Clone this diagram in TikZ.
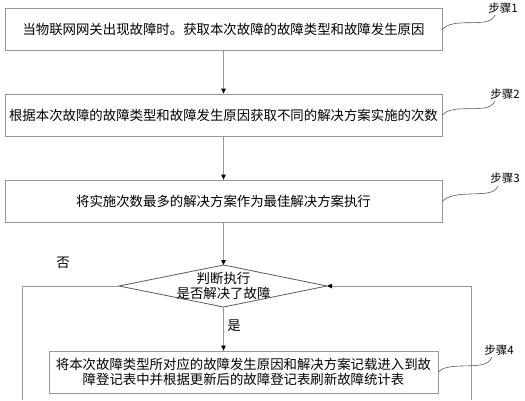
\documentclass[tikz,border=0pt]{standalone}
\usepackage{fontspec}
\setmainfont{Noto Sans CJK SC}
\usetikzlibrary{arrows.meta}
\definecolor{linegray}{RGB}{150,150,150}
\definecolor{darkline}{RGB}{90,90,90}
\begin{document}
\begin{tikzpicture}[x=1pt,y=-1pt,
  box/.style={draw=linegray, line width=0.8pt, minimum height=42pt, inner sep=0pt, font=\fontsize{13.4}{15}\selectfont, align=center},
  link/.style={draw=linegray, line width=0.8pt},
  arr/.style={link, -{Triangle[length=5pt,width=4.5pt,fill=black,color=black]}},
  txt/.style={font=\fontsize{13.4}{15}\selectfont, align=center, inner sep=0pt},
  steplbl/.style={font=\fontsize{11.5}{13}\selectfont, inner sep=0pt},
  wig/.style={draw=darkline, line width=0.6pt}]
\useasboundingbox[fill=white] (0,0) rectangle (525,400);

\node[box, minimum width=437pt] (b1) at (223.5,29.5) {当物联网网关出现故障时。获取本次故障的故障类型和故障发生原因};
\node[box, minimum width=437pt] (b2) at (223.5,115) {根据本次故障的故障类型和故障发生原因获取不同的解决方案实施的次数};
\node[box, minimum width=437pt] (b3) at (223.5,201) {将实施次数最多的解决方案作为最佳解决方案执行};

\coordinate (dT) at (223.5,265);
\coordinate (dR) at (327,286);
\coordinate (dB) at (223.5,307);
\coordinate (dL) at (119,286);
\draw[draw=darkline, line width=0.8pt] (dT) -- (dR) -- (dB) -- (dL) -- cycle;
\node[txt] (dtext) at (223.5,286) {判断执行\\是否解决了故障};

\node[box, minimum width=389pt] (b4) at (243.5,372) {将本次故障类型所对应的故障发生原因和解决方案记载进入到故\\障登记表中并根据更新后的故障登记表刷新故障统计表};

\draw[arr] (b1.south) -- (b2.north);
\draw[arr] (b2.south) -- (b3.north);
\draw[arr] (b3.south) -- (dT);
\draw[arr] (dB) -- (dB |- b4.north);

\coordinate (lb) at (22,400);
\coordinate (rb) at (471,400);
\draw[link] (dL) -| (lb);
\draw[arr] (rb) |- (dR);

\node[txt] (no) at (63,263) {否};
\node[txt] (yes) at (234,326) {是};

\node[steplbl] (s1) at (503,8) {步骤1};
\node[steplbl] (s2) at (505,94) {步骤2};
\node[steplbl] (s3) at (505,178) {步骤3};
\node[steplbl] (s4) at (499,350) {步骤4};

\draw[wig] (b1.east) .. controls (450,20) and (470,24) .. (484,22) .. controls (490,21) and (493,19) .. (495,15);
\draw[wig] (b2.east) .. controls (450,106) and (470,110) .. (484,108) .. controls (490,107) and (493,105) .. (495,101);
\draw[wig] (b3.east) .. controls (452,192) and (472,195) .. (487,193) .. controls (493,192) and (496,190) .. (498,186);
\draw[wig] (b4.east) .. controls (445,364) and (465,367) .. (480,365) .. controls (486,364) and (490,362) .. (492,357);
\end{tikzpicture}
\end{document}
